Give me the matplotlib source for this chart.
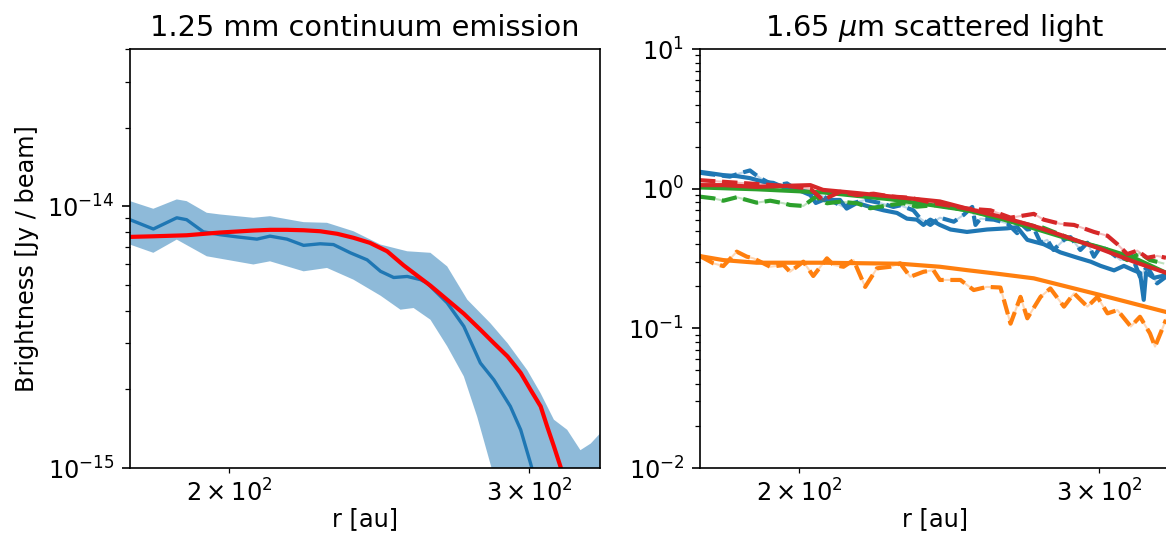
import numpy as np
import matplotlib
matplotlib.use('Agg')
import matplotlib.pyplot as plt
from matplotlib.ticker import NullFormatter

# ---- left panel: 1.25 mm continuum ----
r_obs = [175.0, 180.6, 186.4, 188.9, 193.2, 197.6, 202.2, 207.7, 211.4, 216.3,
         221.2, 226.2, 230.3, 235.6, 241.0, 245.4, 249.8, 254.4, 259.0, 261.3,
         268.5, 274.6, 280.8, 286.0, 292.4, 296.5, 300.5, 304.6]
b_obs = [8.9e-15, 8.2e-15, 9.05e-15, 8.9e-15, 8.0e-15, 7.8e-15, 7.65e-15, 7.5e-15,
         7.7e-15, 7.5e-15, 7.1e-15, 7.2e-15, 7.15e-15, 6.65e-15, 6.25e-15, 5.65e-15,
         5.35e-15, 5.4e-15, 5.25e-15, 5.1e-15, 4.28e-15, 3.48e-15, 2.52e-15, 2.17e-15,
         1.72e-15, 1.40e-15, 1.04e-15, 7.5e-16]

r_up = [175.0, 180.6, 186.4, 188.9, 194.1, 197.6, 206.7, 211.4, 221.2, 228.3,
        236.6, 245.4, 254.4, 262.5, 268.5, 275.9, 284.6, 291.3, 299.1, 304.6,
        310.1, 315.7, 321.4, 325.9, 330.2]
b_up = [1.048e-14, 9.8e-15, 1.064e-14, 1.048e-14, 9.46e-15, 9.32e-15, 9.05e-15,
        9.18e-15, 8.71e-15, 8.66e-15, 8.04e-15, 7.15e-15, 6.74e-15, 6.65e-15,
        5.9e-15, 4.4e-15, 3.58e-15, 3.0e-15, 2.37e-15, 1.93e-15, 1.53e-15,
        1.40e-15, 1.17e-15, 1.24e-15, 1.36e-15]

r_lo = [175.0, 180.6, 186.4, 194.1, 206.7, 211.4, 221.2, 228.3, 236.6, 245.4,
        252.1, 256.6, 262.5, 268.5, 274.6, 279.6, 284.6, 288.5, 330.2]
b_lo = [7.15e-15, 6.65e-15, 7.47e-15, 6.45e-15, 6.0e-15, 6.17e-15, 5.65e-15,
        5.82e-15, 5.25e-15, 4.56e-15, 4.03e-15, 4.09e-15, 3.69e-15, 2.92e-15,
        2.24e-15, 1.57e-15, 1.04e-15, 7.5e-16, 3e-16]

r_mod = [175.0, 180.6, 188.9, 197.6, 206.7, 211.4, 216.3, 221.2, 226.2, 231.5,
         236.6, 241.9, 247.6, 253.2, 256.6, 262.5, 268.5, 274.6, 280.8, 286.0,
         291.3, 296.5, 300.5, 304.6, 307.3, 310.1, 312.9, 315.4]
b_mod = [7.65e-15, 7.69e-15, 7.76e-15, 7.95e-15, 8.09e-15, 8.14e-15, 8.14e-15,
         8.11e-15, 8.04e-15, 7.86e-15, 7.59e-15, 7.26e-15, 6.74e-15, 5.95e-15,
         5.57e-15, 4.98e-15, 4.40e-15, 3.89e-15, 3.38e-15, 3.0e-15, 2.67e-15,
         2.31e-15, 1.99e-15, 1.72e-15, 1.44e-15, 1.21e-15, 1.01e-15, 8.2e-16]

# ---- right panel: 1.65 um scattered light ----
r_blue_s = [175, 177.4, 180.6, 183.9, 187.2, 190.6, 193.2, 196.8, 199.4, 203.1,
            204.6, 206.6, 211.4, 213.3, 216.3, 220.2, 224.2, 228.3, 231.4, 234.5,
            236.6, 238.8, 241.9, 245.4, 250.9, 257.8, 264.9, 268.5, 272.2, 278.3,
            284.6, 291.3, 296.5, 300.5, 306.0, 310.1, 314.3, 316.9, 318.5, 319.5,
            322.9, 328.2]
y_blue_s = [1.32, 1.29, 1.25, 1.23, 1.19, 1.12, 1.10, 1.00, 0.99, 0.90,
            0.79, 0.83, 0.83, 0.72, 0.79, 0.74, 0.70, 0.67, 0.61, 0.60,
            0.55, 0.60, 0.55, 0.51, 0.49, 0.51, 0.52, 0.53, 0.43, 0.40,
            0.35, 0.32, 0.30, 0.28, 0.26, 0.28, 0.26, 0.25, 0.16, 0.25,
            0.23, 0.24]

r_blue_d = [175, 177.4, 182.2, 184.7, 187.2, 189.8, 192.4, 194.1, 196.8, 199.4,
            204.0, 206.6, 212.4, 215.3, 218.7, 223.1, 227.2, 229.3, 233.4, 235.6,
            238.8, 241.9, 246.5, 249.8, 252.7, 253.8, 255.5, 260.2, 264.9, 268.5,
            269.7, 272.2, 274.6, 277.1, 279.6, 282.0, 286.0, 288.5, 292.4, 295.2,
            297.8, 300.5, 303.3, 308.7, 313.0, 316.9, 320.0, 324.3, 328.2]
y_blue_d = [1.30, 1.27, 1.22, 1.29, 1.35, 1.19, 1.09, 1.06, 1.09, 0.98,
            0.93, 0.88, 0.74, 0.79, 0.83, 0.79, 0.74, 0.76, 0.70, 0.61,
            0.55, 0.62, 0.58, 0.65, 0.74, 0.55, 0.61, 0.60, 0.565, 0.48,
            0.565, 0.51, 0.52, 0.41, 0.43, 0.364, 0.43, 0.45, 0.364, 0.41,
            0.326, 0.384, 0.364, 0.308, 0.345, 0.234, 0.276, 0.21, 0.234]

r_orange_s = [175, 180.6, 188.9, 206.6, 229.3, 241.9, 250.9, 261.4, 274.6, 300.5, 328.2]
y_orange_s = [0.329, 0.308, 0.295, 0.295, 0.29, 0.276, 0.261, 0.246, 0.228, 0.173, 0.131]

r_orange_d = [175.0, 178.2, 180.6, 183.9, 186.4, 188.1, 192.4, 195.9, 197.6, 201.2,
              203.9, 207.7, 209.6, 212.4, 215.3, 218.7, 222.2, 226.2, 229.3, 232.4,
              236.6, 239.8, 241.9, 248.7, 253.2, 257.8, 262.5, 266.1, 269.7, 272.2,
              277.1, 280.8, 286.0, 289.9, 295.2, 299.2, 303.3, 307.4, 313.0, 316.9,
              321.2, 323.4, 328.2]
y_orange_d = [0.329, 0.292, 0.279, 0.354, 0.326, 0.317, 0.276, 0.284, 0.254, 0.300,
              0.237, 0.317, 0.284, 0.276, 0.308, 0.198, 0.269, 0.276, 0.292, 0.234,
              0.254, 0.261, 0.222, 0.222, 0.188, 0.198, 0.196, 0.108, 0.168, 0.118,
              0.168, 0.193, 0.143, 0.178, 0.143, 0.168, 0.128, 0.135, 0.103, 0.121,
              0.092, 0.074, 0.115]

r_green_s = [175, 188.9, 206.6, 226.2, 239.7, 250.9, 262.5, 274.6, 287.2, 300.5, 314.3, 328.2]
y_green_s = [1.02, 0.99, 0.94, 0.84, 0.76, 0.70, 0.61, 0.52, 0.44, 0.38, 0.32, 0.25]

r_green_d = [175, 178.2, 180.6, 183.9, 186.4, 188.9, 192.4, 195.9, 197.6, 201.2,
             204.6, 207.7, 211.4, 216.3, 220.2, 226.2, 230.3, 234.5, 240.9, 250.9,
             262.5, 274.6, 277.1, 289.9, 303.3, 311.5, 316.9, 321.2, 327.0]
y_green_d = [0.876, 0.853, 0.82, 0.868, 0.83, 0.794, 0.82, 0.786, 0.764, 0.752,
             0.876, 0.786, 0.807, 0.786, 0.724, 0.764, 0.786, 0.743, 0.764, 0.70,
             0.62, 0.54, 0.534, 0.429, 0.364, 0.308, 0.345, 0.308, 0.292]

r_red_s = [175, 180.6, 188.9, 197.6, 203.1, 206.6, 216.3, 226.2, 241.9, 250.9,
           262.5, 274.6, 287.2, 300.5, 314.3, 328.2]
y_red_s = [1.06, 1.06, 1.03, 1.05, 1.06, 0.98, 0.93, 0.88, 0.81, 0.72,
           0.63, 0.54, 0.45, 0.37, 0.30, 0.25]

r_red_d = [175, 180.6, 188.9, 197.6, 203.1, 206.6, 211.4, 216.3, 221.2, 226.2,
           232.4, 239.7, 250.9, 259.0, 266.1, 274.6, 278.3, 284.6, 289.9, 297.8,
           303.3, 307.4, 311.5, 315.7, 320.0, 324.3, 328.2]
y_red_d = [1.15, 1.12, 1.08, 1.04, 1.0, 0.83, 0.95, 0.90, 0.92, 0.88,
           0.86, 0.79, 0.72, 0.70, 0.62, 0.66, 0.60, 0.56, 0.55, 0.49,
           0.46, 0.40, 0.34, 0.36, 0.32, 0.33, 0.32]

plt.rcParams['font.size'] = 11.5
plt.rcParams['xtick.major.size'] = 4
plt.rcParams['ytick.major.size'] = 4
plt.rcParams['xtick.minor.size'] = 2.3
plt.rcParams['ytick.minor.size'] = 2.3

W, H = 1166, 535
fig = plt.figure(figsize=(W / 150, H / 150), dpi=150)
ax1 = fig.add_axes([130 / W, (H - 468) / H, 470 / W, 419 / H])
ax2 = fig.add_axes([700 / W, (H - 468) / H, 470 / W, 419 / H])

"""left panel"""
ax1.fill(r_up + r_lo[::-1], b_up + b_lo[::-1], color='tab:blue', alpha=0.5, lw=0)
ax1.plot(r_obs, b_obs, color='tab:blue', lw=1.6)
ax1.plot(r_mod, b_mod, color='red', lw=2)
ax1.set_xscale('log')
ax1.set_yscale('log')
ax1.set_xlim(175, 330)
ax1.set_ylim(1e-15, 4e-14)
ax1.yaxis.set_minor_formatter(NullFormatter())
ax1.set_xlabel('r [au]', labelpad=0)
ax1.set_ylabel('Brightness [Jy / beam]')
ax1.set_title('1.25 mm continuum emission')

"""right panel"""
series = [('tab:blue', r_blue_s, y_blue_s, r_blue_d, y_blue_d),
          ('tab:orange', r_orange_s, y_orange_s, r_orange_d, y_orange_d),
          ('tab:green', r_green_s, y_green_s, r_green_d, y_green_d),
          ('tab:red', r_red_s, y_red_s, r_red_d, y_red_d)]
for c, rs, ys, rd, yd in series:
    ax2.plot(rs, ys, color=c, lw=2)
    ax2.plot(rd, yd, color=c, lw=1, alpha=0.3)
    ax2.plot(rd, yd, color=c, lw=2, ls='--')
ax2.set_xscale('log')
ax2.set_yscale('log')
ax2.set_xlim(175, 330)
ax2.set_ylim(1e-2, 1e1)
ax2.yaxis.set_minor_formatter(NullFormatter())
ax2.set_xlabel('r [au]', labelpad=0)
ax2.set_title('1.65 $\\mu$m scattered light')

fig.savefig('out.png', dpi=150)
